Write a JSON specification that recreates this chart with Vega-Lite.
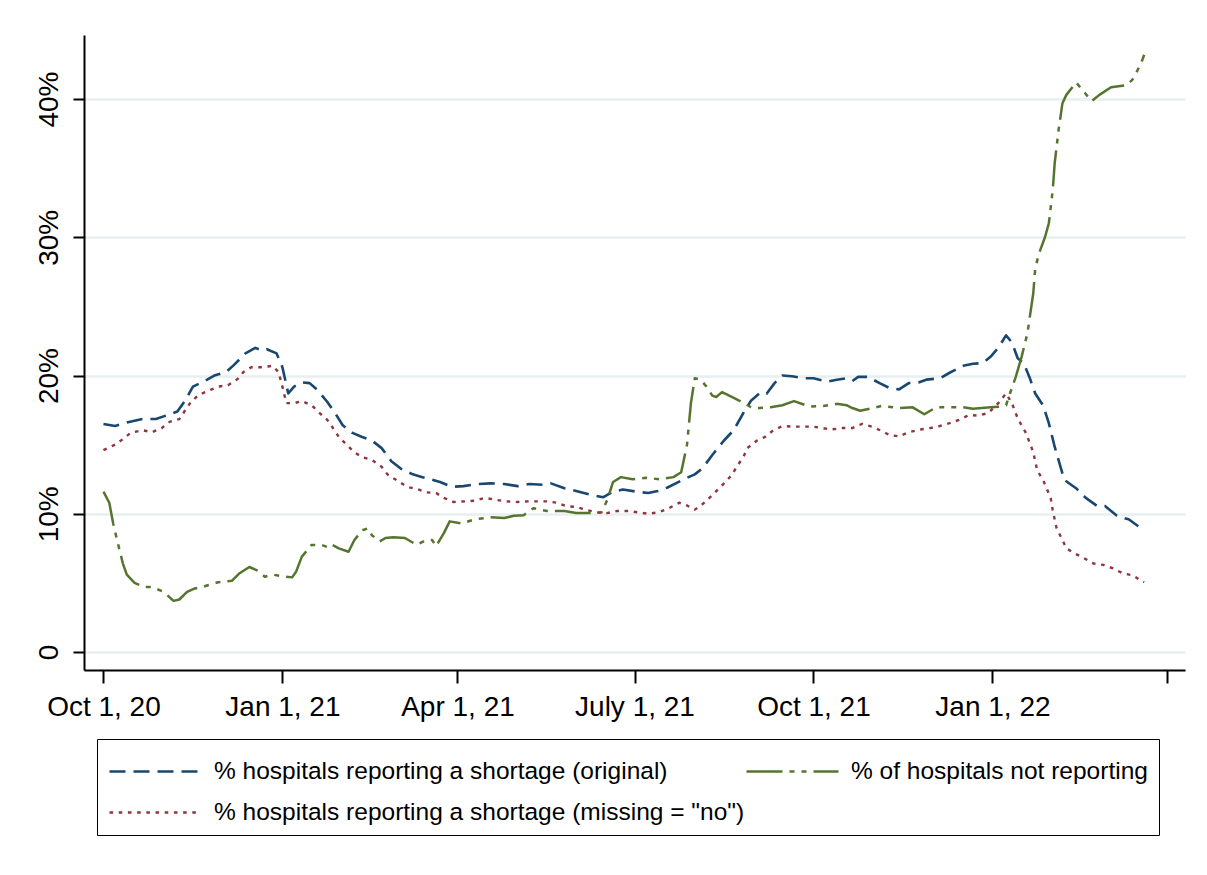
{
  "$schema": "https://vega.github.io/schema/vega-lite/v6.json",
  "width": 1101,
  "height": 635,
  "autosize": {"type": "none"},
  "padding": {"left": 84, "top": 35, "right": 22, "bottom": 205},
  "background": "white",
  "config": {"view": {"stroke": null}, "font": "Liberation Sans"},
  "data": {"values": [
{"series":"original","date":"2020-10-01","value":16.5},{"series":"original","date":"2020-10-07","value":16.35},{"series":"original","date":"2020-10-13","value":16.6},{"series":"original","date":"2020-10-21","value":16.85},{"series":"original","date":"2020-10-28","value":16.85},{"series":"original","date":"2020-11-02","value":17.1},{"series":"original","date":"2020-11-08","value":17.4},{"series":"original","date":"2020-11-12","value":18.2},{"series":"original","date":"2020-11-16","value":19.2},{"series":"original","date":"2020-11-22","value":19.6},{"series":"original","date":"2020-11-27","value":20.0},{"series":"original","date":"2020-12-03","value":20.25},{"series":"original","date":"2020-12-07","value":20.75},{"series":"original","date":"2020-12-13","value":21.6},{"series":"original","date":"2020-12-18","value":22.0},{"series":"original","date":"2020-12-22","value":21.8},{"series":"original","date":"2020-12-24","value":21.9},{"series":"original","date":"2020-12-29","value":21.6},{"series":"original","date":"2021-01-01","value":20.6},{"series":"original","date":"2021-01-04","value":18.7},{"series":"original","date":"2021-01-07","value":19.2},{"series":"original","date":"2021-01-11","value":19.5},{"series":"original","date":"2021-01-15","value":19.45},{"series":"original","date":"2021-01-19","value":18.95},{"series":"original","date":"2021-01-24","value":18.1},{"series":"original","date":"2021-01-28","value":17.3},{"series":"original","date":"2021-02-01","value":16.4},{"series":"original","date":"2021-02-06","value":15.85},{"series":"original","date":"2021-02-11","value":15.55},{"series":"original","date":"2021-02-16","value":15.3},{"series":"original","date":"2021-02-21","value":14.75},{"series":"original","date":"2021-02-26","value":13.8},{"series":"original","date":"2021-03-03","value":13.25},{"series":"original","date":"2021-03-09","value":12.85},{"series":"original","date":"2021-03-14","value":12.65},{"series":"original","date":"2021-03-23","value":12.3},{"series":"original","date":"2021-03-29","value":11.95},{"series":"original","date":"2021-04-04","value":12.0},{"series":"original","date":"2021-04-11","value":12.15},{"series":"original","date":"2021-04-18","value":12.2},{"series":"original","date":"2021-04-25","value":12.15},{"series":"original","date":"2021-05-02","value":12.0},{"series":"original","date":"2021-05-08","value":12.15},{"series":"original","date":"2021-05-15","value":12.1},{"series":"original","date":"2021-05-19","value":12.2},{"series":"original","date":"2021-05-26","value":11.85},{"series":"original","date":"2021-06-01","value":11.65},{"series":"original","date":"2021-06-09","value":11.35},{"series":"original","date":"2021-06-15","value":11.2},{"series":"original","date":"2021-06-20","value":11.6},{"series":"original","date":"2021-06-25","value":11.75},{"series":"original","date":"2021-07-02","value":11.6},{"series":"original","date":"2021-07-08","value":11.5},{"series":"original","date":"2021-07-13","value":11.65},{"series":"original","date":"2021-07-18","value":11.9},{"series":"original","date":"2021-07-23","value":12.25},{"series":"original","date":"2021-07-28","value":12.6},{"series":"original","date":"2021-08-01","value":12.85},{"series":"original","date":"2021-08-05","value":13.3},{"series":"original","date":"2021-08-10","value":14.25},{"series":"original","date":"2021-08-16","value":15.3},{"series":"original","date":"2021-08-21","value":16.05},{"series":"original","date":"2021-08-26","value":17.3},{"series":"original","date":"2021-08-30","value":18.2},{"series":"original","date":"2021-09-04","value":18.8},{"series":"original","date":"2021-09-07","value":18.7},{"series":"original","date":"2021-09-11","value":19.45},{"series":"original","date":"2021-09-15","value":20.0},{"series":"original","date":"2021-09-20","value":19.95},{"series":"original","date":"2021-09-26","value":19.8},{"series":"original","date":"2021-10-01","value":19.8},{"series":"original","date":"2021-10-08","value":19.55},{"series":"original","date":"2021-10-13","value":19.7},{"series":"original","date":"2021-10-18","value":19.8},{"series":"original","date":"2021-10-21","value":19.6},{"series":"original","date":"2021-10-24","value":19.9},{"series":"original","date":"2021-10-29","value":19.9},{"series":"original","date":"2021-11-04","value":19.45},{"series":"original","date":"2021-11-09","value":19.1},{"series":"original","date":"2021-11-14","value":19.0},{"series":"original","date":"2021-11-19","value":19.45},{"series":"original","date":"2021-11-24","value":19.5},{"series":"original","date":"2021-11-28","value":19.7},{"series":"original","date":"2021-12-05","value":19.8},{"series":"original","date":"2021-12-10","value":20.2},{"series":"original","date":"2021-12-17","value":20.7},{"series":"original","date":"2021-12-22","value":20.85},{"series":"original","date":"2021-12-27","value":20.9},{"series":"original","date":"2021-12-31","value":21.35},{"series":"original","date":"2022-01-04","value":22.0},{"series":"original","date":"2022-01-08","value":22.9},{"series":"original","date":"2022-01-11","value":22.4},{"series":"original","date":"2022-01-14","value":21.25},{"series":"original","date":"2022-01-17","value":20.9},{"series":"original","date":"2022-01-20","value":19.9},{"series":"original","date":"2022-01-23","value":18.7},{"series":"original","date":"2022-01-27","value":17.85},{"series":"original","date":"2022-01-30","value":16.55},{"series":"original","date":"2022-02-02","value":14.85},{"series":"original","date":"2022-02-05","value":13.4},{"series":"original","date":"2022-02-07","value":12.45},{"series":"original","date":"2022-02-13","value":11.85},{"series":"original","date":"2022-02-18","value":11.15},{"series":"original","date":"2022-02-24","value":10.55},{"series":"original","date":"2022-02-28","value":10.55},{"series":"original","date":"2022-03-06","value":9.85},{"series":"original","date":"2022-03-12","value":9.6},{"series":"original","date":"2022-03-19","value":8.9},{"series":"original","date":"2022-03-20","value":8.85},
{"series":"notrep","date":"2020-10-01","value":11.6},{"series":"notrep","date":"2020-10-04","value":10.8},{"series":"notrep","date":"2020-10-06","value":9.3},{"series":"notrep","date":"2020-10-08","value":8.1},{"series":"notrep","date":"2020-10-11","value":6.4},{"series":"notrep","date":"2020-10-13","value":5.6},{"series":"notrep","date":"2020-10-17","value":5.0},{"series":"notrep","date":"2020-10-22","value":4.7},{"series":"notrep","date":"2020-10-26","value":4.7},{"series":"notrep","date":"2020-11-01","value":4.35},{"series":"notrep","date":"2020-11-06","value":3.7},{"series":"notrep","date":"2020-11-09","value":3.8},{"series":"notrep","date":"2020-11-13","value":4.35},{"series":"notrep","date":"2020-11-17","value":4.6},{"series":"notrep","date":"2020-11-21","value":4.7},{"series":"notrep","date":"2020-11-24","value":4.85},{"series":"notrep","date":"2020-11-29","value":5.05},{"series":"notrep","date":"2020-12-06","value":5.15},{"series":"notrep","date":"2020-12-10","value":5.7},{"series":"notrep","date":"2020-12-15","value":6.15},{"series":"notrep","date":"2020-12-19","value":5.9},{"series":"notrep","date":"2020-12-23","value":5.45},{"series":"notrep","date":"2020-12-27","value":5.6},{"series":"notrep","date":"2020-12-31","value":5.5},{"series":"notrep","date":"2021-01-06","value":5.4},{"series":"notrep","date":"2021-01-08","value":5.8},{"series":"notrep","date":"2021-01-11","value":6.9},{"series":"notrep","date":"2021-01-14","value":7.4},{"series":"notrep","date":"2021-01-16","value":7.75},{"series":"notrep","date":"2021-01-21","value":7.75},{"series":"notrep","date":"2021-01-24","value":7.6},{"series":"notrep","date":"2021-01-26","value":7.8},{"series":"notrep","date":"2021-01-30","value":7.5},{"series":"notrep","date":"2021-02-04","value":7.25},{"series":"notrep","date":"2021-02-07","value":8.1},{"series":"notrep","date":"2021-02-11","value":8.8},{"series":"notrep","date":"2021-02-14","value":8.95},{"series":"notrep","date":"2021-02-16","value":8.45},{"series":"notrep","date":"2021-02-20","value":8.0},{"series":"notrep","date":"2021-02-23","value":8.25},{"series":"notrep","date":"2021-02-27","value":8.3},{"series":"notrep","date":"2021-03-05","value":8.25},{"series":"notrep","date":"2021-03-11","value":7.75},{"series":"notrep","date":"2021-03-16","value":8.1},{"series":"notrep","date":"2021-03-19","value":8.1},{"series":"notrep","date":"2021-03-21","value":7.65},{"series":"notrep","date":"2021-03-25","value":8.6},{"series":"notrep","date":"2021-03-28","value":9.45},{"series":"notrep","date":"2021-04-03","value":9.3},{"series":"notrep","date":"2021-04-10","value":9.6},{"series":"notrep","date":"2021-04-18","value":9.75},{"series":"notrep","date":"2021-04-25","value":9.7},{"series":"notrep","date":"2021-04-30","value":9.85},{"series":"notrep","date":"2021-05-05","value":9.9},{"series":"notrep","date":"2021-05-10","value":10.4},{"series":"notrep","date":"2021-05-17","value":10.2},{"series":"notrep","date":"2021-05-26","value":10.2},{"series":"notrep","date":"2021-06-01","value":10.05},{"series":"notrep","date":"2021-06-08","value":10.05},{"series":"notrep","date":"2021-06-14","value":10.1},{"series":"notrep","date":"2021-06-17","value":11.0},{"series":"notrep","date":"2021-06-20","value":12.3},{"series":"notrep","date":"2021-06-24","value":12.65},{"series":"notrep","date":"2021-06-30","value":12.5},{"series":"notrep","date":"2021-07-07","value":12.6},{"series":"notrep","date":"2021-07-14","value":12.5},{"series":"notrep","date":"2021-07-21","value":12.65},{"series":"notrep","date":"2021-07-25","value":13.0},{"series":"notrep","date":"2021-07-28","value":15.0},{"series":"notrep","date":"2021-07-30","value":18.0},{"series":"notrep","date":"2021-08-01","value":19.8},{"series":"notrep","date":"2021-08-04","value":19.7},{"series":"notrep","date":"2021-08-07","value":19.2},{"series":"notrep","date":"2021-08-10","value":18.55},{"series":"notrep","date":"2021-08-12","value":18.45},{"series":"notrep","date":"2021-08-15","value":18.8},{"series":"notrep","date":"2021-08-20","value":18.45},{"series":"notrep","date":"2021-08-25","value":18.1},{"series":"notrep","date":"2021-08-30","value":17.7},{"series":"notrep","date":"2021-09-03","value":17.65},{"series":"notrep","date":"2021-09-09","value":17.7},{"series":"notrep","date":"2021-09-15","value":17.85},{"series":"notrep","date":"2021-09-21","value":18.15},{"series":"notrep","date":"2021-09-29","value":17.75},{"series":"notrep","date":"2021-10-06","value":17.8},{"series":"notrep","date":"2021-10-13","value":17.95},{"series":"notrep","date":"2021-10-18","value":17.85},{"series":"notrep","date":"2021-10-21","value":17.65},{"series":"notrep","date":"2021-10-25","value":17.45},{"series":"notrep","date":"2021-10-30","value":17.6},{"series":"notrep","date":"2021-11-05","value":17.8},{"series":"notrep","date":"2021-11-14","value":17.65},{"series":"notrep","date":"2021-11-21","value":17.7},{"series":"notrep","date":"2021-11-27","value":17.2},{"series":"notrep","date":"2021-12-03","value":17.7},{"series":"notrep","date":"2021-12-10","value":17.7},{"series":"notrep","date":"2021-12-17","value":17.7},{"series":"notrep","date":"2021-12-22","value":17.6},{"series":"notrep","date":"2021-12-31","value":17.7},{"series":"notrep","date":"2022-01-05","value":17.75},{"series":"notrep","date":"2022-01-08","value":17.85},{"series":"notrep","date":"2022-01-10","value":18.7},{"series":"notrep","date":"2022-01-13","value":19.9},{"series":"notrep","date":"2022-01-16","value":21.35},{"series":"notrep","date":"2022-01-19","value":23.05},{"series":"notrep","date":"2022-01-22","value":25.95},{"series":"notrep","date":"2022-01-23","value":27.75},{"series":"notrep","date":"2022-01-25","value":28.85},{"series":"notrep","date":"2022-01-28","value":30.0},{"series":"notrep","date":"2022-01-30","value":31.0},{"series":"notrep","date":"2022-02-01","value":33.4},{"series":"notrep","date":"2022-02-02","value":35.35},{"series":"notrep","date":"2022-02-04","value":37.75},{"series":"notrep","date":"2022-02-06","value":39.7},{"series":"notrep","date":"2022-02-08","value":40.3},{"series":"notrep","date":"2022-02-13","value":41.2},{"series":"notrep","date":"2022-02-16","value":40.7},{"series":"notrep","date":"2022-02-21","value":39.85},{"series":"notrep","date":"2022-02-25","value":40.3},{"series":"notrep","date":"2022-03-03","value":40.85},{"series":"notrep","date":"2022-03-11","value":41.0},{"series":"notrep","date":"2022-03-14","value":41.4},{"series":"notrep","date":"2022-03-16","value":41.9},{"series":"notrep","date":"2022-03-19","value":42.8},{"series":"notrep","date":"2022-03-20","value":43.2},
{"series":"missing","date":"2020-10-01","value":14.6},{"series":"missing","date":"2020-10-07","value":15.0},{"series":"missing","date":"2020-10-11","value":15.4},{"series":"missing","date":"2020-10-15","value":15.85},{"series":"missing","date":"2020-10-21","value":16.05},{"series":"missing","date":"2020-10-26","value":15.9},{"series":"missing","date":"2020-10-31","value":16.2},{"series":"missing","date":"2020-11-04","value":16.65},{"series":"missing","date":"2020-11-09","value":16.85},{"series":"missing","date":"2020-11-15","value":18.1},{"series":"missing","date":"2020-11-19","value":18.6},{"series":"missing","date":"2020-11-24","value":18.9},{"series":"missing","date":"2020-11-29","value":19.2},{"series":"missing","date":"2020-12-04","value":19.3},{"series":"missing","date":"2020-12-09","value":19.75},{"series":"missing","date":"2020-12-12","value":20.25},{"series":"missing","date":"2020-12-16","value":20.6},{"series":"missing","date":"2020-12-21","value":20.6},{"series":"missing","date":"2020-12-27","value":20.7},{"series":"missing","date":"2020-12-30","value":20.25},{"series":"missing","date":"2021-01-01","value":19.2},{"series":"missing","date":"2021-01-03","value":18.0},{"series":"missing","date":"2021-01-07","value":18.0},{"series":"missing","date":"2021-01-11","value":18.15},{"series":"missing","date":"2021-01-16","value":17.85},{"series":"missing","date":"2021-01-20","value":17.3},{"series":"missing","date":"2021-01-24","value":16.8},{"series":"missing","date":"2021-01-27","value":16.2},{"series":"missing","date":"2021-01-30","value":15.55},{"series":"missing","date":"2021-02-03","value":15.0},{"series":"missing","date":"2021-02-07","value":14.45},{"series":"missing","date":"2021-02-11","value":14.1},{"series":"missing","date":"2021-02-16","value":13.9},{"series":"missing","date":"2021-02-21","value":13.4},{"series":"missing","date":"2021-02-24","value":12.85},{"series":"missing","date":"2021-03-01","value":12.4},{"series":"missing","date":"2021-03-06","value":11.95},{"series":"missing","date":"2021-03-11","value":11.8},{"series":"missing","date":"2021-03-16","value":11.55},{"series":"missing","date":"2021-03-21","value":11.5},{"series":"missing","date":"2021-03-25","value":11.15},{"series":"missing","date":"2021-03-30","value":10.85},{"series":"missing","date":"2021-04-05","value":10.9},{"series":"missing","date":"2021-04-10","value":10.95},{"series":"missing","date":"2021-04-15","value":11.15},{"series":"missing","date":"2021-04-21","value":11.0},{"series":"missing","date":"2021-04-26","value":10.9},{"series":"missing","date":"2021-05-02","value":10.85},{"series":"missing","date":"2021-05-07","value":10.9},{"series":"missing","date":"2021-05-12","value":10.9},{"series":"missing","date":"2021-05-17","value":10.9},{"series":"missing","date":"2021-05-22","value":10.8},{"series":"missing","date":"2021-05-27","value":10.55},{"series":"missing","date":"2021-06-01","value":10.5},{"series":"missing","date":"2021-06-07","value":10.25},{"series":"missing","date":"2021-06-12","value":10.1},{"series":"missing","date":"2021-06-17","value":10.05},{"series":"missing","date":"2021-06-22","value":10.2},{"series":"missing","date":"2021-06-28","value":10.2},{"series":"missing","date":"2021-07-03","value":10.1},{"series":"missing","date":"2021-07-08","value":10.0},{"series":"missing","date":"2021-07-13","value":10.1},{"series":"missing","date":"2021-07-18","value":10.35},{"series":"missing","date":"2021-07-24","value":10.8},{"series":"missing","date":"2021-07-28","value":10.6},{"series":"missing","date":"2021-08-01","value":10.3},{"series":"missing","date":"2021-08-05","value":10.7},{"series":"missing","date":"2021-08-10","value":11.35},{"series":"missing","date":"2021-08-16","value":12.2},{"series":"missing","date":"2021-08-20","value":12.8},{"series":"missing","date":"2021-08-23","value":13.5},{"series":"missing","date":"2021-08-26","value":14.1},{"series":"missing","date":"2021-08-28","value":14.75},{"series":"missing","date":"2021-09-02","value":15.3},{"series":"missing","date":"2021-09-06","value":15.55},{"series":"missing","date":"2021-09-10","value":16.0},{"series":"missing","date":"2021-09-15","value":16.35},{"series":"missing","date":"2021-09-20","value":16.3},{"series":"missing","date":"2021-10-01","value":16.3},{"series":"missing","date":"2021-10-10","value":16.1},{"series":"missing","date":"2021-10-16","value":16.2},{"series":"missing","date":"2021-10-21","value":16.2},{"series":"missing","date":"2021-10-26","value":16.5},{"series":"missing","date":"2021-10-31","value":16.3},{"series":"missing","date":"2021-11-05","value":16.0},{"series":"missing","date":"2021-11-09","value":15.7},{"series":"missing","date":"2021-11-14","value":15.6},{"series":"missing","date":"2021-11-19","value":15.9},{"series":"missing","date":"2021-11-25","value":16.1},{"series":"missing","date":"2021-11-30","value":16.2},{"series":"missing","date":"2021-12-05","value":16.35},{"series":"missing","date":"2021-12-10","value":16.55},{"series":"missing","date":"2021-12-15","value":16.8},{"series":"missing","date":"2021-12-20","value":17.15},{"series":"missing","date":"2021-12-25","value":17.1},{"series":"missing","date":"2021-12-30","value":17.3},{"series":"missing","date":"2022-01-04","value":18.0},{"series":"missing","date":"2022-01-08","value":18.7},{"series":"missing","date":"2022-01-11","value":18.0},{"series":"missing","date":"2022-01-14","value":16.9},{"series":"missing","date":"2022-01-18","value":15.9},{"series":"missing","date":"2022-01-20","value":15.2},{"series":"missing","date":"2022-01-22","value":14.45},{"series":"missing","date":"2022-01-24","value":13.15},{"series":"missing","date":"2022-01-27","value":12.45},{"series":"missing","date":"2022-01-29","value":11.8},{"series":"missing","date":"2022-01-31","value":11.1},{"series":"missing","date":"2022-02-01","value":10.25},{"series":"missing","date":"2022-02-03","value":8.95},{"series":"missing","date":"2022-02-06","value":8.1},{"series":"missing","date":"2022-02-08","value":7.5},{"series":"missing","date":"2022-02-12","value":7.15},{"series":"missing","date":"2022-02-17","value":6.8},{"series":"missing","date":"2022-02-22","value":6.4},{"series":"missing","date":"2022-02-27","value":6.3},{"series":"missing","date":"2022-03-04","value":6.05},{"series":"missing","date":"2022-03-09","value":5.7},{"series":"missing","date":"2022-03-14","value":5.55},{"series":"missing","date":"2022-03-18","value":5.2},{"series":"missing","date":"2022-03-20","value":5.05}
  ]},
  "mark": {"type": "line", "strokeCap": "butt", "strokeJoin": "round"},
  "encoding": {
    "x": {
      "field": "date", "type": "temporal",
      "scale": {"type": "utc", "domain": [{"year": 2020, "month": 9, "date": 21, "utc": true}, {"year": 2022, "month": 4, "date": 10, "utc": true}]},
      "axis": {
        "title": null,
        "values": [
          {"year": 2020, "month": 10, "date": 1, "utc": true},
          {"year": 2021, "month": 1, "date": 1, "utc": true},
          {"year": 2021, "month": 4, "date": 1, "utc": true},
          {"year": 2021, "month": 7, "date": 1, "utc": true},
          {"year": 2021, "month": 10, "date": 1, "utc": true},
          {"year": 2022, "month": 1, "date": 1, "utc": true},
          {"year": 2022, "month": 4, "date": 1, "utc": true}
        ],
        "labelExpr": "utcyear(datum.value) == 2022 && utcmonth(datum.value) == 3 ? '' : (utcmonth(datum.value) == 6 ? 'July 1, 21' : utcFormat(datum.value, '%b %-d, %y'))",
        "grid": false,
        "domainColor": "black", "domainWidth": 2,
        "tickColor": "black", "tickWidth": 2, "tickSize": 13,
        "labelFontSize": 28, "labelColor": "black", "labelPadding": 10,
        "labelFlush": false, "labelOverlap": false
      }
    },
    "y": {
      "field": "value", "type": "quantitative",
      "scale": {"domain": [-1.3, 44.63], "nice": false, "zero": false},
      "axis": {
        "title": null,
        "values": [0, 10, 20, 30, 40],
        "labelExpr": "datum.value == 0 ? '0' : datum.value + '%'",
        "labelAngle": -90, "labelAlign": "center", "labelBaseline": "alphabetic",
        "labelPadding": 16, "labelFontSize": 28, "labelColor": "black",
        "tickSize": 11, "tickColor": "black", "tickWidth": 2,
        "domainColor": "black", "domainWidth": 2,
        "grid": true, "gridColor": "#e7eff0", "gridWidth": 2.5
      }
    },
    "color": {
      "field": "series", "type": "nominal",
      "scale": {"domain": ["original", "notrep", "missing"], "range": ["#1a476f", "#55752f", "#90353b"]},
      "legend": {
        "orient": "none", "legendX": 13, "legendY": 704,
        "columns": 2, "direction": "horizontal",
        "title": null,
        "labelExpr": "datum.value == 'original' ? '% hospitals reporting a shortage (original)' : (datum.value == 'notrep' ? '% of hospitals not reporting' : '% hospitals reporting a shortage (missing = \"no\")')",
        "symbolType": "M-2.3,0H2.3", "symbolSize": 1600, "symbolOffset": 26,
        "labelFontSize": 24.5, "labelColor": "black", "labelLimit": 900, "labelOffset": 37,
        "columnPadding": -41, "rowPadding": 8, "padding": 11,
        "strokeColor": "black", "fillColor": "white"
      }
    },
    "strokeDash": {
      "field": "series", "type": "nominal",
      "scale": {"domain": ["original", "notrep", "missing"], "range": [[16, 8], [36, 7, 5, 7, 5, 7], [3.6, 5.6]]}
    },
    "strokeWidth": {
      "field": "series", "type": "nominal",
      "scale": {"domain": ["original", "notrep", "missing"], "range": [2.6, 2.4, 3.6]}
    }
  }
}
